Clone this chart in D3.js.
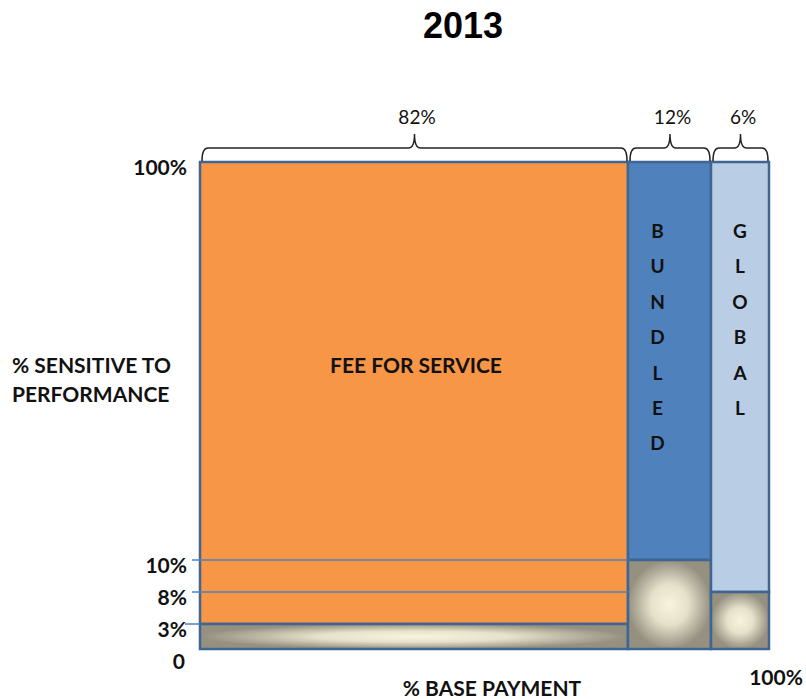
<!DOCTYPE html>
<head>
<meta charset="utf-8">
<style>
  body { margin: 0; background: #fff; }
  text { font-family: Lato, "Open Sans", sans-serif; font-weight: bold; fill: #111; }
</style>
</head>
<body>
  <svg width="806" height="699"></svg>

  <script src="https://d3js.org/d3.v7.min.js"></script>
  <script>
  // payment types, share of base payment and share sensitive to performance
  const segments = ['FEE FOR SERVICE', 'BUNDLED', 'GLOBAL'];
  const basePct = [82, 12, 6];
  const sensitivePct = [3, 10, 8];
  const yTickValues = [0, 3, 8, 10, 100];
  const yTickLabels = ['0', '3%', '8%', '10%', '100%'];
  const topColors = ['#F79646', '#4F81BD', '#B9CDE5'];

  const svg = d3.select('svg');

  // cumulative positions of the column edges
  const edges = [0];
  basePct.forEach(v => edges.push(edges[edges.length - 1] + v));

  // schematic (non proportional) scales, as in the original slide
  const x = d3.scaleLinear().domain(edges).range([200, 628, 711, 769]);
  const y = d3.scaleLinear().domain(yTickValues).range([649, 624, 592, 560, 162]);

  // radial gradient for the performance-sensitive parts
  const defs = svg.append('defs');
  const grad = defs.append('radialGradient').attr('id', 'perf');
  grad.append('stop').attr('offset', '0%').attr('stop-color', '#F8F4DF');
  grad.append('stop').attr('offset', '45%').attr('stop-color', '#E6E1CA');
  grad.append('stop').attr('offset', '100%').attr('stop-color', '#959080');

  // title
  svg.append('text')
    .attr('x', 463).attr('y', 38)
    .attr('text-anchor', 'middle')
    .style('font-family', '"Liberation Sans", Arial, sans-serif')
    .style('font-size', '36px')
    .style('fill', '#000')
    .text('2013');

  const cols = svg.selectAll('g.col')
    .data(segments)
    .enter()
    .append('g')
    .attr('class', 'col');

  // upper part (not sensitive to performance)
  cols.append('rect')
    .attr('x', (d, i) => x(edges[i]))
    .attr('width', (d, i) => x(edges[i + 1]) - x(edges[i]))
    .attr('y', y(100))
    .attr('height', (d, i) => y(sensitivePct[i]) - y(100))
    .attr('fill', (d, i) => topColors[i])
    .attr('stroke', '#3F6592')
    .attr('stroke-width', 2.5);

  // lower part (sensitive to performance)
  cols.append('rect')
    .attr('x', (d, i) => x(edges[i]))
    .attr('width', (d, i) => x(edges[i + 1]) - x(edges[i]))
    .attr('y', (d, i) => y(sensitivePct[i]))
    .attr('height', (d, i) => y(0) - y(sensitivePct[i]))
    .attr('fill', 'url(#perf)')
    .attr('stroke', '#3F6592')
    .attr('stroke-width', 2.5);

  // y tick labels
  svg.selectAll('text.ytick')
    .data(yTickValues)
    .enter()
    .append('text')
    .attr('class', 'ytick')
    .attr('x', d => d === 0 ? 185 : 187)
    .attr('y', d => y(d) + (d === 0 ? 20 : 13))
    .attr('text-anchor', 'end')
    .style('font-size', '21px')
    .text((d, i) => yTickLabels[i]);

  // leader lines from the labels
  const leaders = [3, 8, 10];
  svg.selectAll('line.lead')
    .data(leaders)
    .enter()
    .append('line')
    .attr('x1', d => d === 3 ? 185 : 192)
    .attr('x2', d => d === 3 ? x(0) : x(edges[1]))
    .attr('y1', d => y(d))
    .attr('y2', d => y(d))
    .attr('stroke', '#4F81BD')
    .attr('stroke-width', 1.5);

  // braces over each column
  const brace = (x0, x1) => {
    const yb = y(100) - 1, yl = 148, yt = 134, xm = (x0 + x1) / 2;
    return `M${x0},${yb} Q${x0},${yl} ${x0 + 6},${yl} L${xm - 6},${yl} Q${xm},${yl} ${xm},${yt}` +
      ` Q${xm},${yl} ${xm + 6},${yl} L${x1 - 6},${yl} Q${x1},${yl} ${x1},${yb}`;
  };
  svg.selectAll('path.brace')
    .data(segments)
    .enter()
    .append('path')
    .attr('d', (d, i) => brace(x(edges[i]) + 2, x(edges[i + 1]) - 1))
    .attr('fill', 'none')
    .attr('stroke', '#222')
    .attr('stroke-width', 1.5);

  svg.selectAll('text.pct')
    .data(basePct)
    .enter()
    .append('text')
    .attr('x', (d, i) => (x(edges[i]) + x(edges[i + 1])) / 2 + 3)
    .attr('y', 124)
    .attr('text-anchor', 'middle')
    .style('font-size', '19px')
    .style('font-weight', 'normal')
    .style('fill', '#111')
    .text(d => d + '%');

  // segment labels
  svg.append('text')
    .attr('x', (x(edges[0]) + x(edges[1])) / 2 + 2)
    .attr('y', 373)
    .attr('text-anchor', 'middle')
    .style('font-size', '21px')
    .text(segments[0]);

  segments.slice(1).forEach((s, k) => {
    const i = k + 1;
    const cx = (x(edges[i]) + x(edges[i + 1])) / 2 - (i === 1 ? 12 : 0);
    svg.selectAll('text.v' + i)
      .data(s.split(''))
      .enter()
      .append('text')
      .attr('x', cx)
      .attr('y', (d, j) => 238 + j * 35.4)
      .attr('text-anchor', 'middle')
      .style('font-size', '19px')
      .text(d => d);
  });

  // axis titles
  const yTitle = svg.append('text')
    .attr('x', 12).attr('y', 373)
    .style('font-size', '21px');
  yTitle.append('tspan').text('% SENSITIVE TO');
  yTitle.append('tspan').attr('x', 12).attr('dy', 29).text('PERFORMANCE');

  svg.append('text')
    .attr('x', 492).attr('y', 696)
    .attr('text-anchor', 'middle')
    .style('font-size', '21px')
    .text('% BASE PAYMENT');

  svg.append('text')
    .attr('x', 776).attr('y', 685)
    .attr('text-anchor', 'middle')
    .style('font-size', '21px')
    .text('100%');
  </script>
</body>
</html>
